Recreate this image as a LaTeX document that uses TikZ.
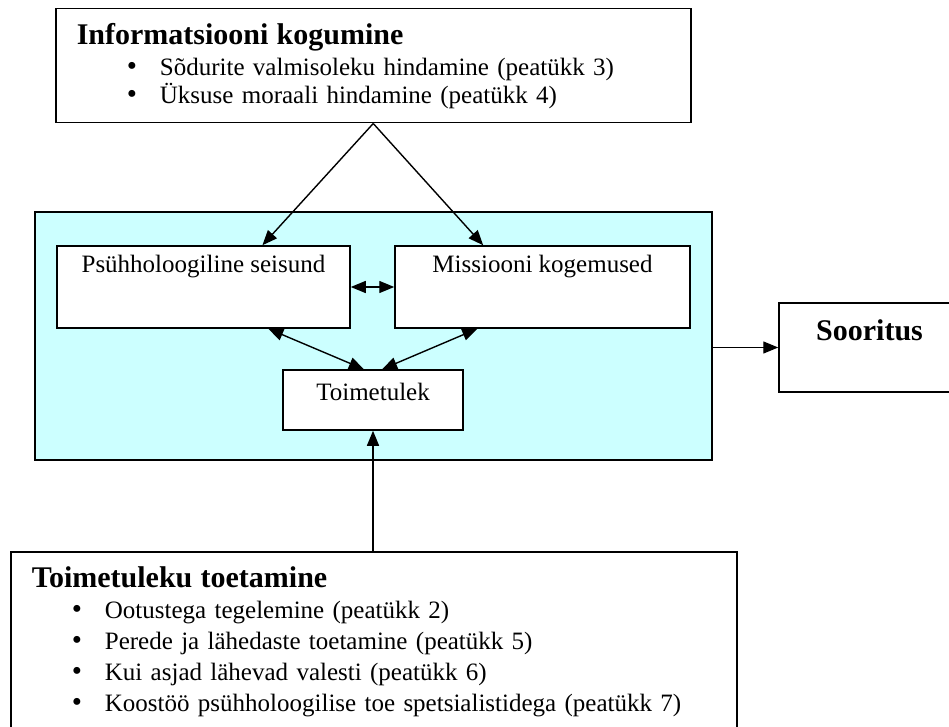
\documentclass[tikz,border=0pt]{standalone}
\usepackage{fontspec}
\setmainfont{Liberation Serif}
\usetikzlibrary{arrows.meta, positioning, calc}
\definecolor{paleaqua}{RGB}{204,255,255}
\newcommand{\blt}{{\fontsize{29}{29}\selectfont\textbullet}}

\begin{document}
\begin{tikzpicture}[x=1pt, y=-1pt, >={Triangle[length=15pt,width=12pt]},
  box/.style={draw, fill=white, line width=1.5pt, inner sep=0pt, align=center, font=\fontsize{25}{28}\selectfont},
  listbox/.style={draw, fill=white, line width=1.5pt, align=left, anchor=north west, inner xsep=21pt},
  link/.style={line width=1.4pt}]
\clip (0,0) rectangle (949,727);

\node[draw, fill=paleaqua, line width=1.5pt, minimum width=677pt, minimum height=248pt] (field) at (373.5,336) {};

\node[listbox, text width=593pt, minimum height=114pt, inner ysep=0pt, font=\fontsize{25}{28}\selectfont] (info) at (55,8) {{\fontsize{30}{34}\selectfont\bfseries Informatsiooni kogumine}\\[3pt]
\hspace*{50pt}\blt\hspace*{23pt}Sõdurite valmisoleku hindamine (peatükk 3)\\
\hspace*{50pt}\blt\hspace*{23pt}Üksuse moraali hindamine (peatükk 4)};

\node[box, minimum width=293pt, text height=26pt, text depth=56pt, anchor=base] (psych) at (203.5,272) {Psühholoogiline seisund};
\node[box, minimum width=295pt, text height=26pt, text depth=56pt, anchor=base] (miss) at (542.5,272) {Missiooni kogemused};
\node[box, minimum width=180pt, text height=30pt, text depth=30pt, anchor=base] (toim) at (373,400) {Toimetulek};
\node[box, minimum width=181pt, text height=37pt, text depth=52pt, anchor=base, font=\fontsize{30}{34}\selectfont\bfseries] (soor) at (869.5,340) {Sooritus};

\node[listbox, text width=684pt, inner ysep=14.5pt, font=\fontsize{25}{31}\selectfont] (support) at (10,551) {{\fontsize{30}{34}\selectfont\bfseries Toimetuleku toetamine}\\
\hspace*{40pt}\blt\hspace*{23pt}Ootustega tegelemine (peatükk 2)\\
\hspace*{40pt}\blt\hspace*{23pt}Perede ja lähedaste toetamine (peatükk 5)\\
\hspace*{40pt}\blt\hspace*{23pt}Kui asjad lähevad valesti (peatükk 6)\\
\hspace*{40pt}\blt\hspace*{23pt}Koostöö psühholoogilise toe spetsialistidega (peatükk 7)};

\draw[link, ->] (info.south) -- ($(psych.north west)!0.7!(psych.north east)$);
\draw[link, ->] (info.south) -- ($(miss.north west)!0.3!(miss.north east)$);
\draw[link, <->] (psych.east) -- (miss.west);
\draw[link, <->] ($(psych.south west)!0.72!(psych.south east)$) -- ($(toim.north west)!0.45!(toim.north east)$);
\draw[link, <->] ($(miss.south west)!0.28!(miss.south east)$) -- ($(toim.north west)!0.55!(toim.north east)$);
\draw[link, ->] (toim.south |- support.north) -- (toim.south);
\draw[link, ->] (field.east |- soor.west) -- (soor.west);
\end{tikzpicture}
\end{document}
